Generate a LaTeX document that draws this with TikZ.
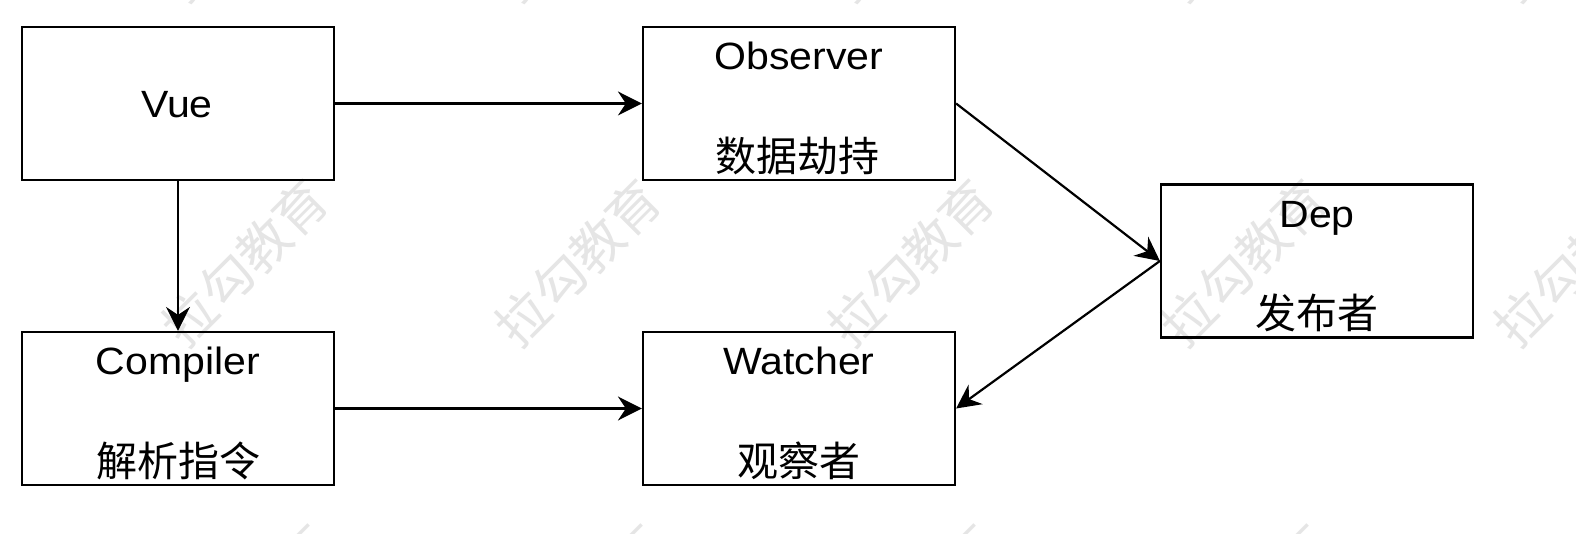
\documentclass[tikz,border=0pt]{standalone}
\usepackage{fontspec}
\setmainfont{Liberation Sans}[FakeStretch=1.08]
\newfontfamily\cjk{Noto Sans CJK SC}
\newfontfamily\wmfont{Noto Sans CJK SC}
\usetikzlibrary{arrows.meta}
\begin{document}
\begin{tikzpicture}[x=1pt,y=-1pt,
  box/.style={draw=black, line width=2.2pt, minimum width=312pt, minimum height=153pt, inner sep=0pt},
  lat/.style={anchor=base, inner sep=0pt, font=\fontsize{38}{44}\selectfont},
  han/.style={anchor=center, inner sep=0pt, font=\cjk\fontsize{41}{46}\selectfont},
  conn/.style={line width=2.2pt, -{Stealth[length=24pt,width=24pt,inset=8pt]}},
  wm/.style={rotate=45, text=black!10, font=\wmfont\fontsize{52}{56}\selectfont, inner sep=0pt}]
\useasboundingbox (0,0) rectangle (1576,534);
\clip (0,0) rectangle (1576,534);
\fill[white] (0,0) rectangle (1576,534);
% watermarks
\foreach \k in {0,...,4}{
  \node[wm] (wmA\k) at ({245+333*\k},263) {拉勾教育};
  \node[wm] (wmB\k) at ({245+333*\k},-82) {拉勾教育};
  \node[wm] (wmC\k) at ({250+333*\k},608) {拉勾教育};
}
% boxes
\node[box] (vue) at (178,103.5) {};
\node[box] (obs) at (799,103.5) {};
\node[box] (cmp) at (178,408.5) {};
\node[box] (wat) at (799,408.5) {};
\node[box] (dep) at (1317,261) {};
% texts
\node[lat] (vueT) at (177,117.3) {Vue};
\node[lat] (obsT) at (799,70) {Observer};
\node[han] (obsC) at (797,156) {数据劫持};
\node[lat] (cmpT) at (178,374) {Compiler};
\node[han] (cmpC) at (178,461) {解析指令};
\node[lat] (watT) at (799,374) {Watcher};
\node[han] (watC) at (799,461) {观察者};
\node[lat] (depT) at (1317,228) {Dep};
\node[han] (depC) at (1317,313) {发布者};
% connectors
\draw[conn] (vue.east) -- (obs.west);
\draw[conn] (vue.south) -- (cmp.north);
\draw[conn] (cmp.east) -- (wat.west);
\draw[conn] (obs.east) -- (dep.west);
\draw[conn] (dep.west) -- (wat.east);
\end{tikzpicture}
\end{document}
